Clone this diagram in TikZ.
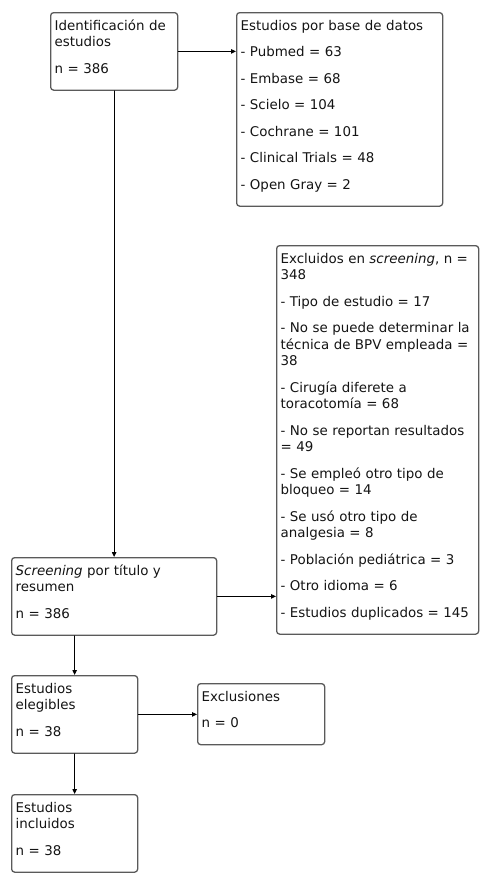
\documentclass[tikz,border=0pt]{standalone}
\usepackage{fontspec}
\setmainfont{DejaVu Sans}
\usepackage{tikz}
\usetikzlibrary{arrows.meta}
\definecolor{boxline}{HTML}{5A5A5A}
\definecolor{boxtext}{HTML}{141414}

\begin{document}
\begin{tikzpicture}[line cap=round,line join=round,>={Triangle[length=5pt,width=4.5pt]},x=1pt,y=-1pt,
  flowbox/.style={draw=boxline,line width=1.3pt,rounded corners=3pt,anchor=north west,
    inner xsep=4pt,inner ysep=0pt,align=left,text=boxtext,
    font=\fontsize{13.4}{16.5}\selectfont,
    execute at begin node={\rule{0pt}{17.5pt}},
    execute at end node={\rule[-17pt]{0pt}{17pt}}},
  flowarrow/.style={->,line width=0.9pt,black}]
\useasboundingbox (0,0) rectangle (480,873);

\node[flowbox,text width=119pt] (ident) at (50,12) {Identificación de\\estudios\\[10pt]n = 386};
\node[flowbox,text width=198pt] (bases) at (236,12) {Estudios por base de datos\\[10pt]- Pubmed = 63\\[10pt]- Embase = 68\\[10pt]- Scielo = 104\\[10pt]- Cochrane = 101\\[10pt]- Clinical Trials = 48\\[10pt]- Open Gray = 2};
\node[flowbox,text width=194pt] (excl) at (276,245) {Excluidos en \textit{screening}, n =\\348\\[10pt]- Tipo de estudio = 17\\[10pt]- No se puede determinar la\\técnica de BPV empleada =\\38\\[10pt]- Cirugía diferete a\\toracotomía = 68\\[10pt]- No se reportan resultados\\= 49\\[10pt]- Se empleó otro tipo de\\bloqueo = 14\\[10pt]- Se usó otro tipo de\\analgesia = 8\\[10pt]- Población pediátrica = 3\\[10pt]- Otro idioma = 6\\[10pt]- Estudios duplicados = 145};
\node[flowbox,text width=197pt] (screen) at (11,557) {\textit{Screening} por título y\\resumen\\[10pt]n = 386};
\node[flowbox,text width=118pt] (elig) at (11,675) {Estudios\\elegibles\\[10pt]n = 38};
\node[flowbox,text width=119pt] (exclus) at (197,683) {Exclusiones\\[10pt]n = 0};
\node[flowbox,text width=118pt] (incl) at (11,794) {Estudios\\incluidos\\[10pt]n = 38};

\draw [flowarrow] (ident.east) -- (ident.east -| bases.west);
\draw [flowarrow] (ident.south) -- (ident.south |- screen.north);
\draw [flowarrow] (screen.east) -- (screen.east -| excl.west);
\draw [flowarrow] (screen.south -| elig.north) -- (elig.north);
\draw [flowarrow] (elig.east) -- (elig.east -| exclus.west);
\draw [flowarrow] (elig.south) -- (incl.north);
\end{tikzpicture}
\end{document}
